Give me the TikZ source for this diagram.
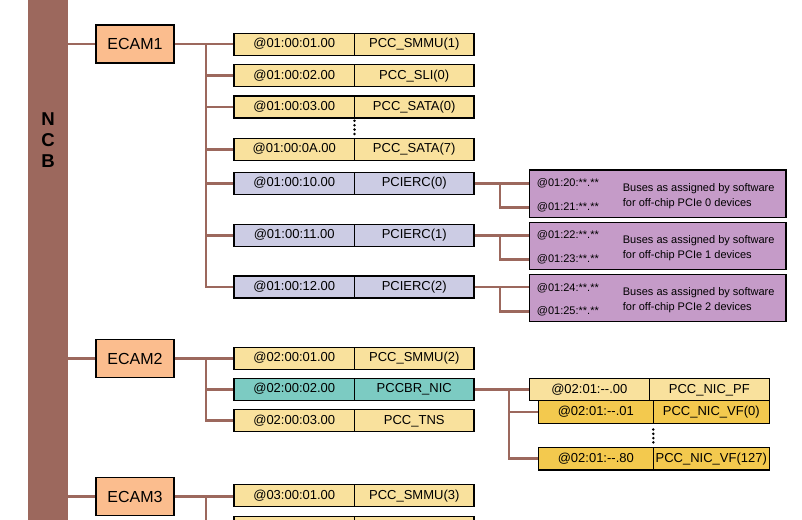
\documentclass[tikz,border=0pt]{standalone}
\usepackage{fontspec}
\setmainfont{Liberation Sans}
\definecolor{brownc}{HTML}{9C685D}
\definecolor{peach}{HTML}{FBBD8E}
\definecolor{yell}{HTML}{F9E19D}
\definecolor{lav}{HTML}{CCCCE4}
\definecolor{teal2}{HTML}{7CCBC2}
\definecolor{purp}{HTML}{C59BC8}
\definecolor{gold}{HTML}{F3C94E}
\newcommand\mkrow[5]{%
  \node[cell, fill=#3, minimum width=120.5pt] (#1a) at (294.25,#2) {#4};
  \node[cell, fill=#3, minimum width=119.5pt] (#1b) at (414.25,#2) {#5};
}
\tikzset{
  conn/.style={draw=brownc, line width=2.6pt},
  cell/.style={draw=black, line width=1.2pt, minimum height=22pt, inner sep=0pt,
    text height=9.5pt, text depth=2.5pt, font=\fontsize{13}{15}\selectfont},
  ecam/.style={draw=black, line width=1.2pt, fill=peach, minimum width=78pt, minimum height=38pt,
    inner sep=0pt, text height=11.5pt, text depth=0pt, font=\fontsize{16}{18}\selectfont},
  pbox/.style={draw=black, line width=1.2pt, fill=purp, minimum width=256.7pt, minimum height=47.3pt, inner sep=0pt},
  ptext/.style={inner sep=0pt, anchor=base west, font=\fontsize{11}{13}\selectfont},
  ncbl/.style={inner sep=0pt, anchor=base, font=\bfseries\fontsize{18.6}{21}\selectfont},
}
\begin{document}
\begin{tikzpicture}[x=1pt,y=-1pt]
\clip (0,0) rectangle (802,519);
\fill[white] (0,0) rectangle (802,519);
% NCB bar
\node[fill=brownc, minimum width=40pt, minimum height=521pt, inner sep=0pt, anchor=north west] (ncb) at (28,-1) {};
\node[ncbl] (ncbN) at (48,125) {N};
\node[ncbl] (ncbC) at (48,146) {C};
\node[ncbl] (ncbB) at (48,167) {B};
% ECAM nodes
\node[ecam] (ecam1) at (135,44) {ECAM1};
\node[ecam] (ecam2) at (135,358.3) {ECAM2};
\node[ecam] (ecam3) at (135,496.3) {ECAM3};
% ECAM1 rows
\mkrow{r1}{44.2}{yell}{@01:00:01.00}{PCC\_SMMU(1)}
\mkrow{r2}{75.5}{yell}{@01:00:02.00}{PCC\_SLI(0)}
\mkrow{r3}{107}{yell}{@01:00:03.00}{PCC\_SATA(0)}
\mkrow{r4}{149.2}{yell}{@01:00:0A.00}{PCC\_SATA(7)}
\mkrow{r5}{183.3}{lav}{@01:00:10.00}{PCIERC(0)}
\mkrow{r6}{235.2}{lav}{@01:00:11.00}{PCIERC(1)}
\mkrow{r7}{286.9}{lav}{@01:00:12.00}{PCIERC(2)}
\foreach \yy in {120.8,125.2,129.6,134} \fill (354.5,\yy) circle (1.4pt);
% ECAM2 rows
\mkrow{s1}{358.3}{yell}{@02:00:01.00}{PCC\_SMMU(2)}
\mkrow{s2}{389.2}{teal2}{@02:00:02.00}{PCCBR\_NIC}
\mkrow{s3}{420.5}{yell}{@02:00:03.00}{PCC\_TNS}
% ECAM3 rows
\mkrow{u1}{495.8}{yell}{@03:00:01.00}{PCC\_SMMU(3)}
\mkrow{u2}{527.7}{yell}{}{}
% purple boxes
\foreach \i/\dy/\na/\nb/\k in {0/0/20/21/0,1/52.1/22/23/1,2/104.3/24/25/2}{
  \node[pbox] (pb\i) at (657.65,193.7+\dy) {};
  \node[ptext] (pb\i a) at (536.7,186.7+\dy) {@01:\na:**.**};
  \node[ptext] (pb\i b) at (536.7,210+\dy) {@01:\nb:**.**};
  \node[ptext] (pb\i c) at (622.7,191+\dy) {Buses as assigned by software};
  \node[ptext] (pb\i d) at (622.7,206+\dy) {for off-chip PCIe \k\ devices};
}
% NIC rows
\node[cell, fill=yell, minimum width=120pt, minimum height=22.4pt] (pfa) at (589.3,389.5) {@02:01:-\kern0pt-.00};
\node[cell, fill=yell, minimum width=120pt, minimum height=22.4pt] (pfb) at (709.3,389.5) {PCC\_NIC\_PF};
\node[cell, fill=gold, minimum width=115pt, minimum height=22.6pt] (vf0a) at (595.8,412) {@02:01:-\kern0pt-.01};
\node[cell, fill=gold, minimum width=116pt, minimum height=22.6pt] (vf0b) at (711.3,412) {PCC\_NIC\_VF(0)};
\node[cell, fill=gold, minimum width=115pt, minimum height=22.6pt] (vfna) at (595.8,458.7) {@02:01:-\kern0pt-.80};
\node[cell, fill=gold, minimum width=116pt, minimum height=22.6pt] (vfnb) at (711.3,458.7) {PCC\_NIC\_VF(127)};
\foreach \yy in {429.5,433.8,438.1,442.4} \fill (653.3,\yy) circle (1.4pt);
% connectors NCB -> ECAM
\draw[conn] (ecam1.west -| ncb.east) -- (ecam1.west);
\draw[conn] (ecam2.west -| ncb.east) -- (ecam2.west);
\draw[conn] (ecam3.west -| ncb.east) -- (ecam3.west);
% ECAM1 tree
\draw[conn] (ecam1.east) -- (ecam1.east -| r1a.west);
\coordinate (t1) at (206,44);
\foreach \nm in {r2,r3,r4,r5,r6,r7} \draw[conn] (t1) |- (\nm a.west);
% ECAM2 tree
\draw[conn] (ecam2.east) -- (ecam2.east -| s1a.west);
\coordinate (t2) at (206,358.3);
\foreach \nm in {s2,s3} \draw[conn] (t2) |- (\nm a.west);
% ECAM3 tree
\draw[conn] (ecam3.east) -- (ecam3.east -| u1a.west);
\coordinate (t3) at (206,496.3);
\draw[conn] (t3) |- (u2a.west);
% PCIERC -> purple boxes
\foreach \i/\rr/\ly in {0/r5/207.7,1/r6/259.3,2/r7/311.5}{
  \draw[conn] (\rr b.east) -- (\rr b.east -| pb\i.west);
  \path (\rr b.east) ++(25.5,0) coordinate (j\i);
  \coordinate (k\i) at (529.3,\ly);
  \draw[conn] (j\i) |- (k\i);
}
% PCCBR_NIC -> NIC rows
\draw[conn] (s2b.east) -- (s2b.east -| pfa.west);
\coordinate (t4) at (509,389.2);
\draw[conn] (t4) |- (vf0a.west);
\draw[conn] (t4) |- (vfna.west);
\end{tikzpicture}
\end{document}
